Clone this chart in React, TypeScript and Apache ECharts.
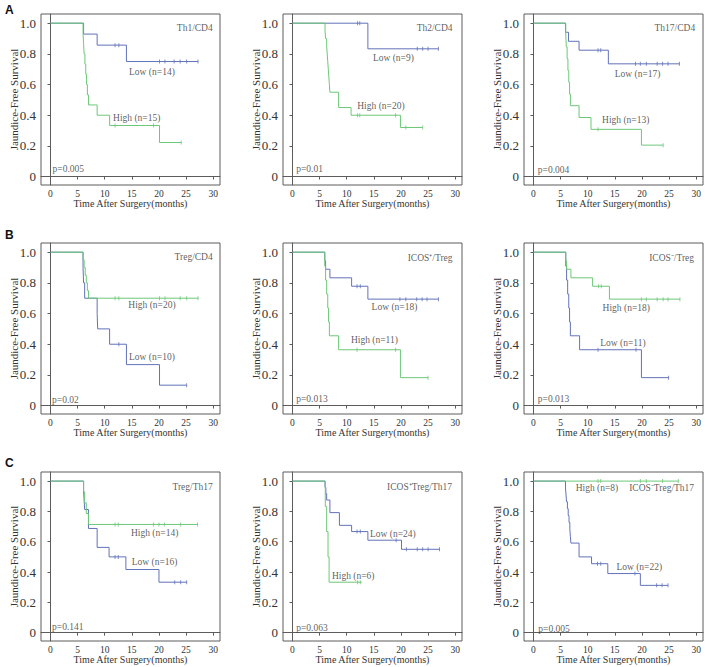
import React, { useEffect, useRef } from 'react';
import * as echarts from 'echarts';

const BLUE = '#6272ba';
const GREEN = '#6cc878';
const FONT = '"Liberation Serif", "Times New Roman", serif';

const xTicks = [0, 5, 10, 15, 20, 25, 30];
const yTicks = [0, 0.2, 0.4, 0.6, 0.8, 1.0];

// Panel 1: Th1/CD4
const th1LowSteps = [[0, 1], [6.1, 0.929], [8.6, 0.857], [14.0, 0.75], [27.2, 0.75]];
const th1LowCensor = [[11.9, 0.857], [12.6, 0.857], [20.1, 0.75], [21.1, 0.75], [22.8, 0.75], [23.9, 0.75], [25.1, 0.75], [27.2, 0.75]];
const th1HighSteps = [[0, 1], [6.0, 0.933], [6.1, 0.867], [6.2, 0.8], [6.35, 0.733], [6.5, 0.667], [6.65, 0.6], [6.8, 0.533], [7.0, 0.467], [8.6, 0.4], [10.9, 0.333], [20.1, 0.222], [24.1, 0.222]];
const th1HighCensor = [[11.9, 0.333], [19.0, 0.333], [24.1, 0.222]];

// Panel 2: Th2/CD4
const th2LowSteps = [[0, 1], [13.9, 0.833], [26.9, 0.833]];
const th2LowCensor = [[12.0, 1], [12.4, 1], [23.0, 0.833], [24.0, 0.833], [25.0, 0.833], [26.9, 0.833]];
const th2HighSteps = [[0, 1], [6.0, 0.95], [6.1, 0.9], [6.3, 0.85], [6.4, 0.8], [6.5, 0.75], [6.6, 0.7], [6.7, 0.65], [6.8, 0.6], [6.9, 0.55], [8.5, 0.45], [10.8, 0.4], [19.9, 0.32], [24.0, 0.32]];
const th2HighCensor = [[12.0, 0.4], [12.4, 0.4], [19.0, 0.4], [20.9, 0.32], [24.0, 0.32]];

// Panel 3: Th17/CD4
const th17LowSteps = [[0, 1], [5.9, 0.941], [6.45, 0.882], [8.4, 0.824], [13.8, 0.735], [26.9, 0.735]];
const th17LowCensor = [[11.9, 0.824], [12.4, 0.824], [18.8, 0.735], [19.7, 0.735], [20.8, 0.735], [22.8, 0.735], [23.8, 0.735], [24.8, 0.735], [26.9, 0.735]];
const th17HighSteps = [[0, 1], [5.95, 0.923], [6.05, 0.846], [6.2, 0.769], [6.35, 0.692], [6.5, 0.615], [6.65, 0.538], [6.8, 0.462], [8.4, 0.385], [10.6, 0.308], [19.9, 0.205], [23.9, 0.205]];
const th17HighCensor = [[11.9, 0.308], [23.9, 0.205]];

// Panel 4: Treg/CD4
const tregLowSteps = [[0, 1], [6.0, 0.9], [6.1, 0.8], [6.3, 0.7], [8.6, 0.6], [8.7, 0.5], [10.9, 0.4], [14.0, 0.267], [20.1, 0.133], [25.1, 0.133]];
const tregLowCensor = [[12.6, 0.4], [25.1, 0.133]];
const tregHighSteps = [[0, 1], [6.0, 0.95], [6.2, 0.9], [6.4, 0.85], [6.6, 0.8], [6.8, 0.75], [7.0, 0.7], [27.2, 0.7]];
const tregHighCensor = [[11.9, 0.7], [12.6, 0.7], [20.1, 0.7], [21.1, 0.7], [23.9, 0.7], [25.1, 0.7], [27.2, 0.7]];

// Panel 5: ICOS+/Treg
const icosPLowSteps = [[0, 1], [5.95, 0.944], [6.1, 0.889], [6.9, 0.833], [10.9, 0.778], [13.9, 0.694], [26.9, 0.694]];
const icosPLowCensor = [[11.9, 0.778], [12.5, 0.778], [19.8, 0.694], [20.9, 0.694], [22.9, 0.694], [23.9, 0.694], [24.8, 0.694], [26.9, 0.694]];
const icosPHighSteps = [[0, 1], [5.95, 0.909], [6.1, 0.818], [6.3, 0.727], [6.5, 0.636], [6.65, 0.545], [6.8, 0.455], [8.5, 0.364], [19.9, 0.182], [25.0, 0.182]];
const icosPHighCensor = [[11.9, 0.364], [19.0, 0.364], [25.0, 0.182]];

// Panel 6: ICOS-/Treg
const icosNLowSteps = [[0, 1], [5.95, 0.909], [6.1, 0.818], [6.3, 0.727], [6.5, 0.636], [6.65, 0.545], [6.8, 0.455], [8.5, 0.364], [19.9, 0.182], [24.9, 0.182]];
const icosNLowCensor = [[11.9, 0.364], [18.9, 0.364], [24.9, 0.182]];
const icosNHighSteps = [[0, 1], [5.95, 0.944], [6.1, 0.889], [6.9, 0.833], [10.9, 0.778], [14.0, 0.694], [27.0, 0.694]];
const icosNHighCensor = [[12.0, 0.778], [12.5, 0.778], [19.9, 0.694], [20.8, 0.694], [22.8, 0.694], [23.9, 0.694], [24.8, 0.694], [27.0, 0.694]];

// Panel 7: Treg/Th17
const tth17LowSteps = [[0, 1], [6.1, 0.9375], [6.2, 0.875], [6.3, 0.8125], [7.0, 0.6875], [8.6, 0.5625], [10.8, 0.5], [13.9, 0.4167], [20.0, 0.333], [25.1, 0.333]];
const tth17LowCensor = [[11.9, 0.5], [12.5, 0.5], [22.9, 0.333], [24.0, 0.333], [25.1, 0.333]];
const tth17HighSteps = [[0, 1], [6.1, 0.929], [6.3, 0.857], [6.6, 0.786], [7.0, 0.714], [27.1, 0.714]];
const tth17HighCensor = [[11.9, 0.714], [12.5, 0.714], [19.0, 0.714], [20.0, 0.714], [21.0, 0.714], [24.0, 0.714], [27.1, 0.714]];

// Panel 8: ICOS+Treg/Th17
const ipTh17LowSteps = [[0, 1], [6.0, 0.958], [6.15, 0.917], [6.3, 0.875], [6.9, 0.792], [8.65, 0.708], [10.9, 0.667], [13.9, 0.61], [20.1, 0.55], [27.1, 0.55]];
const ipTh17LowCensor = [[11.9, 0.667], [12.5, 0.667], [19.1, 0.61], [21.0, 0.55], [23.0, 0.55], [24.0, 0.55], [25.0, 0.55], [27.1, 0.55]];
const ipTh17HighSteps = [[0, 1], [6.05, 0.833], [6.3, 0.667], [6.55, 0.5], [6.75, 0.333], [12.8, 0.333]];
const ipTh17HighCensor = [[12.0, 0.333], [12.5, 0.333]];

// Panel 9: ICOS-Treg/Th17
const inTh17LowSteps = [[0, 1], [5.9, 0.955], [6.0, 0.909], [6.1, 0.864], [6.25, 0.818], [6.4, 0.773], [6.55, 0.727], [6.7, 0.682], [6.8, 0.636], [6.9, 0.591], [8.4, 0.5], [10.7, 0.455], [13.7, 0.39], [19.7, 0.312], [24.8, 0.312]];
const inTh17LowCensor = [[11.8, 0.455], [12.4, 0.455], [18.7, 0.39], [22.7, 0.312], [23.7, 0.312], [24.8, 0.312]];
const inTh17HighSteps = [[0, 1], [26.7, 1]];
const inTh17HighCensor = [[11.9, 1], [12.4, 1], [19.7, 1], [20.8, 1], [23.8, 1], [26.7, 1]];

// Annotations: [x, y, text, align]
const notes1 = [[18.7, 0.68, 'Low (n=14)', 'center'], [15.9, 0.385, 'High (n=15)', 'center'], [0.3, 0.048, 'p=0.005', 'left'], [30.0, 0.967, 'Th1/CD4', 'right']];
const notes2 = [[18.6, 0.772, 'Low (n=9)', 'center'], [16.3, 0.461, 'High (n=20)', 'center'], [0.6, 0.05, 'p=0.01', 'left'], [29.6, 0.967, 'Th2/CD4', 'right']];
const notes3 = [[19.2, 0.667, 'Low (n=17)', 'center'], [17.0, 0.368, 'High (n=13)', 'center'], [0.7, 0.044, 'p=0.004', 'left'], [29.9, 0.967, 'Th17/CD4', 'right']];
const notes4 = [[18.7, 0.654, 'High (n=20)', 'center'], [18.7, 0.315, 'Low (n=10)', 'center'], [0.2, 0.037, 'p=0.02', 'left'], [30.0, 0.967, 'Treg/CD4', 'right']];
const notes5 = [[18.8, 0.641, 'Low (n=18)', 'center'], [15.1, 0.428, 'High (n=11)', 'center'], [0.6, 0.04, 'p=0.013', 'left'], [29.6, 0.963, 'ICOS\u207A/Treg', 'right']];
const notes6 = [[17.1, 0.637, 'High (n=18)', 'center'], [16.5, 0.409, 'Low (n=11)', 'center'], [0.7, 0.04, 'p=0.013', 'left'], [29.7, 0.963, 'ICOS\u207B/Treg', 'right']];
const notes7 = [[19.2, 0.656, 'High (n=14)', 'center'], [19.2, 0.468, 'Low (n=16)', 'center'], [0.2, 0.037, 'p=0.141', 'left'], [30.0, 0.963, 'Treg/Th17', 'right']];
const notes8 = [[18.5, 0.652, 'Low (n=24)', 'center'], [11.2, 0.376, 'High (n=6)', 'center'], [0.6, 0.033, 'p=0.063', 'left'], [29.5, 0.963, 'ICOS\u207ATreg/Th17', 'right']];
const notes9 = [[11.7, 0.956, 'High (n=8)', 'center'], [29.7, 0.956, 'ICOS\u207BTreg/Th17', 'right'], [19.5, 0.433, 'Low (n=22)', 'center'], [0.8, 0.026, 'p=0.005', 'left']];

const panels = [
  { curves: [[th1LowSteps, th1LowCensor, BLUE], [th1HighSteps, th1HighCensor, GREEN]], notes: notes1 },
  { curves: [[th2LowSteps, th2LowCensor, BLUE], [th2HighSteps, th2HighCensor, GREEN]], notes: notes2 },
  { curves: [[th17LowSteps, th17LowCensor, BLUE], [th17HighSteps, th17HighCensor, GREEN]], notes: notes3 },
  { curves: [[tregLowSteps, tregLowCensor, BLUE], [tregHighSteps, tregHighCensor, GREEN]], notes: notes4 },
  { curves: [[icosPLowSteps, icosPLowCensor, BLUE], [icosPHighSteps, icosPHighCensor, GREEN]], notes: notes5 },
  { curves: [[icosNLowSteps, icosNLowCensor, BLUE], [icosNHighSteps, icosNHighCensor, GREEN]], notes: notes6 },
  { curves: [[tth17LowSteps, tth17LowCensor, BLUE], [tth17HighSteps, tth17HighCensor, GREEN]], notes: notes7 },
  { curves: [[ipTh17LowSteps, ipTh17LowCensor, BLUE], [ipTh17HighSteps, ipTh17HighCensor, GREEN]], notes: notes8 },
  { curves: [[inTh17LowSteps, inTh17LowCensor, BLUE], [inTh17HighSteps, inTh17HighCensor, GREEN]], notes: notes9 },
];

const colLeft = [41, 283, 524];
const rowTop = [14, 243, 472];
const rowH = [171, 171, 169];
const GRID_W = 179;

const posFor = (a: string) => (a === 'left' ? 'right' : a === 'right' ? 'left' : 'inside');

function buildOption() {
  const grid: any[] = [];
  const xAxis: any[] = [];
  const yAxis: any[] = [];
  const series: any[] = [];
  panels.forEach((p, i) => {
    const r = Math.floor(i / 3);
    const c = i % 3;
    grid.push({
      left: colLeft[c], top: rowTop[r], width: GRID_W, height: rowH[r],
      containLabel: false, outerBoundsMode: 'none',
      show: true, borderColor: '#5c5c5c', borderWidth: 1, backgroundColor: 'transparent',
    });
    xAxis.push({
      gridIndex: i, type: 'value', min: -1.75, max: 31.25,
      axisLine: { show: true, lineStyle: { color: '#5c5c5c' } },
      splitLine: { show: false },
      axisTick: { show: true, length: 3, customValues: xTicks, lineStyle: { color: '#5c5c5c' } },
      axisLabel: { customValues: xTicks, fontSize: 9.5, color: '#333', margin: 4, fontFamily: FONT },
      name: 'Time After Surgery(months)', nameLocation: 'middle', nameGap: 13, nameMoveOverlap: false,
      nameTextStyle: { fontSize: 10, color: '#333', fontFamily: FONT, fontWeight: 'normal' },
    });
    yAxis.push({
      gridIndex: i, type: 'value', min: -0.055, max: 1.06,
      axisLine: { show: true, lineStyle: { color: '#5c5c5c' } },
      splitLine: { show: false },
      axisTick: { show: true, length: 3, customValues: yTicks, lineStyle: { color: '#5c5c5c' } },
      axisLabel: {
        customValues: yTicks, fontSize: 13, color: '#333', margin: 5, fontFamily: FONT,
        formatter: (v: number) => (Math.abs(v) < 1e-9 ? '0' : v.toFixed(1)),
      },
      name: 'Jaundice-Free Survival', nameLocation: 'middle', nameGap: 22, nameMoveOverlap: false,
      nameTextStyle: { fontSize: 11, color: '#333', fontFamily: FONT, fontWeight: 'normal' },
    });
    p.curves.forEach(([steps, censor, color]: any) => {
      series.push({
        type: 'line', xAxisIndex: i, yAxisIndex: i, data: steps, step: 'end',
        symbol: 'none', showSymbol: false, silent: true,
        lineStyle: { color, width: 1 },
      });
      series.push({
        type: 'scatter', xAxisIndex: i, yAxisIndex: i, data: censor, silent: true,
        symbol: 'rect', symbolSize: [1, 4], itemStyle: { color },
      });
    });
    series.push({
      type: 'scatter', xAxisIndex: i, yAxisIndex: i, silent: true, symbolSize: 1,
      itemStyle: { color: 'rgba(0,0,0,0)' },
      labelLayout: { hideOverlap: false, moveOverlap: false },
      data: p.notes.map((n: any) => ({
        value: [n[0], n[1]], name: n[2],
        label: { position: posFor(n[3]) },
      })),
      label: {
        show: true, distance: 0,
        formatter: (q: any) => q.name, fontSize: 9.5, color: '#333', fontFamily: FONT,
      },
      z: 5,
    });
  });
  const letters = [['A', 4], ['B', 229], ['C', 457]];
  return {
    animation: false,
    grid, xAxis, yAxis, series,
    graphic: letters.map(([t, y]) => ({
      type: 'text', left: 5, top: y as number,
      style: { text: t as string, fontSize: 12, fontWeight: 'bold', fill: '#111', fontFamily: '"Liberation Sans", Arial, sans-serif' },
    })),
  };
}

export default function App() {
  const ref = useRef<HTMLDivElement>(null);
  useEffect(() => {
    document.body.style.margin = '0';
    const chart = echarts.init(ref.current!, null, { renderer: 'svg' });
    chart.setOption(buildOption() as any);
    return () => chart.dispose();
  }, []);
  return <div ref={ref} style={{ width: 708, height: 667, background: '#fff' }} />;
}
